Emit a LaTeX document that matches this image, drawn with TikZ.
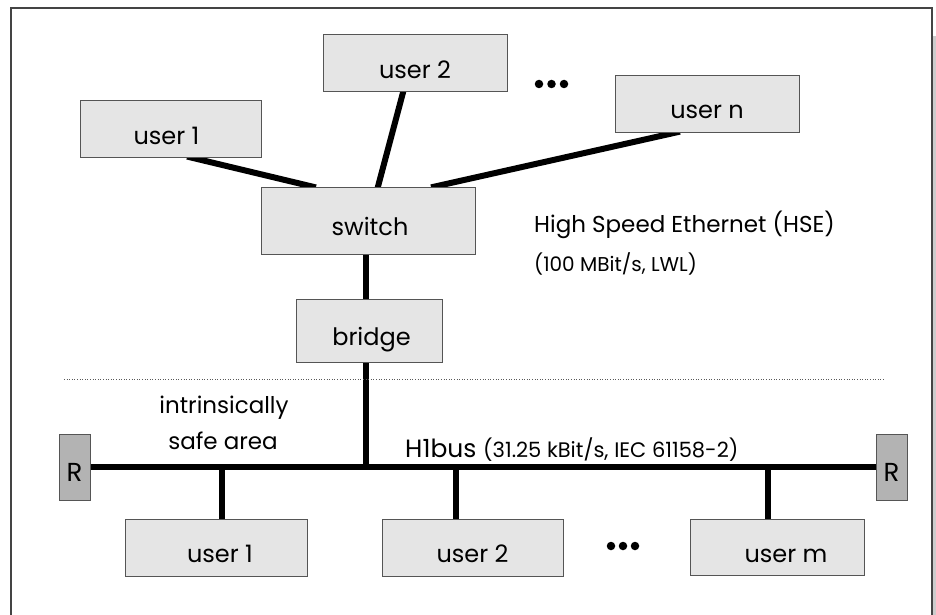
\documentclass[tikz,border=0pt]{standalone}
\usepackage{fontspec}
\setmainfont{Poppins}
\usetikzlibrary{backgrounds}
\definecolor{boxfill}{HTML}{E5E5E5}
\definecolor{boxline}{HTML}{555555}
\definecolor{rfill}{HTML}{B3B3B3}
\definecolor{framecol}{HTML}{444444}
\tikzset{
  box/.style={draw=boxline, line width=1pt, fill=boxfill, inner sep=0pt,
    text height=30pt, text depth=0pt, font=\fontsize{24}{28}\selectfont},
  rbox/.style={box, fill=rfill, text height=28pt, font=\fontsize{26}{30}\selectfont},
  wire/.style={line width=6pt, black, shorten <=-4pt, shorten >=-4pt},
  busline/.style={line width=6pt, black},
  lbl/.style={inner sep=0pt, anchor=base},
  bigtxt/.style={font=\fontsize{23}{27}\selectfont},
  smalltxt/.style={font=\fontsize{20}{24}\selectfont},
  dotmark/.style={circle, fill=black, inner sep=0pt, minimum size=8.5pt},
}
\begin{document}
\begin{tikzpicture}[x=1pt,y=-1pt]
\useasboundingbox (0,0) rectangle (936,615);
% frame
\fill[gray!40] (933,36) rectangle (936,615);
\draw[framecol, line width=1.4pt] (11,615) -- (11,8) -- (932,8) -- (932,615);

% top nodes
\node[box, minimum width=181pt, minimum height=56pt] (u1t) at (170.5,129) {user 1\hspace*{8pt}};
\node[box, minimum width=184pt, minimum height=57pt] (u2t) at (415,63.5) {user 2};
\node[box, minimum width=184pt, minimum height=56pt] (unt) at (707,104) {user n};
\node[box, minimum width=214pt, minimum height=67pt] (sw) at (368,220.5) {\hspace*{4pt}switch};
\node[box, minimum width=146pt, minimum height=63pt] (br) at (369,330.5) {\hspace*{5pt}bridge};

\node[dotmark] (d1) at (539,84) {};
\node[dotmark] (d2) at (551.5,84) {};
\node[dotmark] (d3) at (564,84) {};

\node[lbl, anchor=base west, bigtxt] (hse) at (534,232) {High Speed Ethernet (HSE)};
\node[lbl, anchor=base west, smalltxt] (hsesub) at (534,271) {(100 MBit/s, LWL)};

% separator
\coordinate (sepL) at (64,379);
\coordinate (sepR) at (884,379);
\draw[dotted, gray!70!black, line width=0.6pt] (sepL) -- (sepR);

\node[lbl, bigtxt] (is1) at (224,413) {intrinsically};
\node[lbl, bigtxt] (is2) at (223,449) {safe area};

% terminators
\node[rbox, minimum width=31pt, minimum height=66pt] (rl) at (74.5,467) {R};
\node[rbox, minimum width=31pt, minimum height=66pt] (rr) at (891.5,467) {R};

\node[lbl, anchor=base west, font=\fontsize{25}{29}\selectfont] (h1) at (405,457) {H1bus {\fontsize{21}{25}\selectfont (31.25 kBit/s, IEC 61158-2)}};

% bottom nodes
\node[box, minimum width=182pt, minimum height=57pt] (u1b) at (216,547.5) {\hspace*{8pt}user 1};
\node[box, minimum width=181pt, minimum height=57pt] (u2b) at (472.5,547.5) {user 2};
\node[box, minimum width=174pt, minimum height=56pt] (umb) at (777,547) {\hspace*{18pt}user m};

\node[dotmark] (e1) at (611,546) {};
\node[dotmark] (e2) at (623,546) {};
\node[dotmark] (e3) at (635,546) {};

\begin{pgfonlayer}{background}
  \draw[wire] ([xshift=20.5pt]u1t.south) -- ([xshift=-56pt]sw.north);
  \draw[wire] ([xshift=-12pt]u2t.south) -- ([xshift=10pt]sw.north);
  \draw[wire] ([xshift=-31pt]unt.south) -- ([xshift=67pt]sw.north);
  \draw[busline] ([xshift=-2pt]sw.south) -- ([xshift=-3pt]br.north);
  \draw[busline] (rl.east) -- (rr.west);
  \draw[busline] ([xshift=-3pt]br.south) -- ([xshift=-3pt]br.south |- rl.east);
  \draw[busline] ([xshift=6pt]u1b.north) -- ([xshift=6pt]u1b.north |- rl.east);
  \draw[busline] ([xshift=-16.5pt]u2b.north) -- ([xshift=-16.5pt]u2b.north |- rl.east);
  \draw[busline] ([xshift=-9pt]umb.north) -- ([xshift=-9pt]umb.north |- rl.east);
\end{pgfonlayer}
\end{tikzpicture}
\end{document}
